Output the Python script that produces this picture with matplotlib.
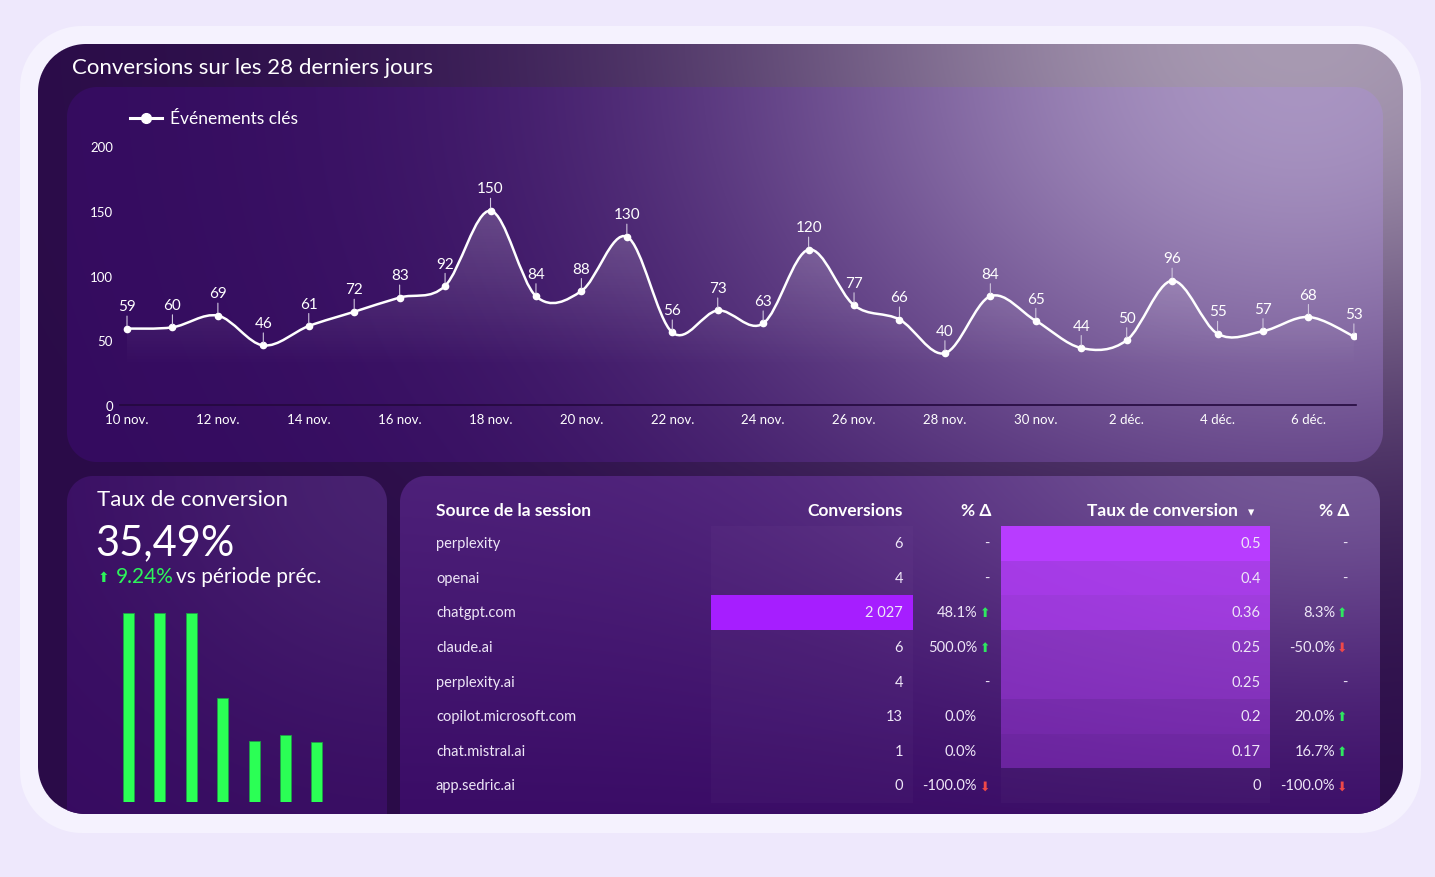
import numpy as np
import matplotlib
matplotlib.use('Agg')
import matplotlib.pyplot as plt
from matplotlib.colors import to_rgb
from matplotlib.path import Path
from matplotlib.patches import PathPatch, Rectangle

plt.rcParams['font.family'] = ['Lato', 'DejaVu Sans']

W, H = 1435, 878

# ---------------- data ----------------
day_labels = [f'{d} nov.' for d in range(10, 31)] + [f'{d} déc.' for d in range(1, 8)]
events = [59, 60, 69, 46, 61, 72, 83, 92, 150, 84, 88, 130, 56, 73,
          63, 120, 77, 66, 40, 84, 65, 44, 50, 96, 55, 57, 68, 53]

rate_value = '35,49%'
rate_change = '9.24%'
trend_bars = [1.0, 1.0, 1.0, 0.55, 0.324, 0.356, 0.315]

sources = ['perplexity', 'openai', 'chatgpt.com', 'claude.ai', 'perplexity.ai',
           'copilot.microsoft.com', 'chat.mistral.ai', 'app.sedric.ai']
conversions = [6, 4, 2027, 6, 4, 13, 1, 0]
conv_delta = ['-', '-', '48.1%', '500.0%', '-', '0.0%', '0.0%', '-100.0%']
conv_dir = [0, 0, 1, 1, 0, 0, 0, -1]
rates = [0.5, 0.4, 0.36, 0.25, 0.25, 0.2, 0.17, 0]
rate_labels = ['0.5', '0.4', '0.36', '0.25', '0.25', '0.2', '0.17', '0']
rate_delta = ['-', '-', '8.3%', '-50.0%', '-', '20.0%', '16.7%', '-100.0%']
rate_dir = [0, 0, 1, -1, 0, 1, 1, -1]

# ---------------- background (rounded cards with glow) ----------------
yy, xx = np.mgrid[0:H, 0:W] + 0.5


def rrect(x0, y0, x1, y1, r):
    cx, cy = (x0 + x1) / 2, (y0 + y1) / 2
    qx = np.abs(xx - cx) - ((x1 - x0) / 2 - r)
    qy = np.abs(yy - cy) - ((y1 - y0) / 2 - r)
    d = np.hypot(np.maximum(qx, 0), np.maximum(qy, 0)) + np.minimum(np.maximum(qx, qy), 0) - r
    return np.clip(0.5 - d, 0, 1)[..., None]


def glow(cx, cy, sx, sy):
    return np.exp(-(((xx - cx) / sx) ** 2 + ((yy - cy) / sy) ** 2))[..., None]


def mix(a, b, t):
    a = np.array(to_rgb(a)) if isinstance(a, str) else a
    b = np.array(to_rgb(b)) if isinstance(b, str) else b
    return a * (1 - t) + b * t


img = np.ones((H, W, 3)) * np.array(to_rgb('#EEE8FC'))
img = mix(img, '#F5F2FE', rrect(20, 27, 1421, 834, 62))

card = rrect(38, 45, 1403, 815, 48)
card_col = mix('#2A0B48', '#A89AB2', glow(1300, 40, 600, 380))
img = mix(img, card_col, card)

chart_col = mix('#340B5F', '#A995C2', glow(1300, 70, 570, 440))
img = mix(img, chart_col, rrect(67, 88, 1383, 463, 30) * card)

left_col = mix('#370B61', '#5A3A80', glow(420, 470, 300, 250) * 0.5)
img = mix(img, left_col, rrect(67, 477, 387, 880, 26) * card)

tv = np.clip((yy[..., None] - 477) / 340, 0, 1)
table_col = mix(mix('#4D2079', '#3A0C66', tv), '#80689F', glow(1330, 440, 420, 220) * 0.8)
img = mix(img, table_col, rrect(400, 477, 1380, 880, 26) * card)

fig = plt.figure(figsize=(W / 100, H / 100), dpi=100)
bg = fig.add_axes([0, 0, 1, 1])
bg.imshow(img, extent=[0, W, H, 0], interpolation='nearest')
bg.set_xlim(0, W)
bg.set_ylim(H, 0)
bg.axis('off')

# ---------------- line chart ----------------
bg.text(72, 68, 'Conversions sur les 28 derniers jours', fontsize=16, color='white', va='center')
bg.plot([130, 162], [119, 119], color='white', lw=2.2)
bg.plot([146], [119], 'o', color='white', ms=7)
bg.text(170, 119, 'Événements clés', fontsize=12.5, color='white', va='center')

step = 45.44
ax = fig.add_axes([120 / W, 1 - 406 / H, (1356 - 120) / W, (406 - 147) / H])
ax.patch.set_alpha(0)
n = len(events)
x = np.arange(n)
pts = np.column_stack([x, events]).astype(float)

verts = [pts[0]]
codes = [Path.MOVETO]
for i in range(n - 1):
    p0, p1, p2, p3 = pts[max(i - 1, 0)], pts[i], pts[i + 1], pts[min(i + 2, n - 1)]
    verts += [p1 + (p2 - p0) / 6, p2 - (p3 - p1) / 6, p2]
    codes += [Path.CURVE4] * 3
line_path = Path(verts, codes)
fill_path = Path(verts + [(n - 1, 0), (0, 0), pts[0]],
                 codes + [Path.LINETO, Path.LINETO, Path.CLOSEPOLY])

fill_patch = PathPatch(fill_path, facecolor='none', edgecolor='none')
ax.add_patch(fill_patch)
lev = np.linspace(0, 200, 400)
grad = np.zeros((400, 1, 4))
grad[..., :3] = 1
grad[:, 0, 3] = 0.20 * np.clip((lev - 28) / 122, 0, 1)
im = ax.imshow(grad, extent=[0, n - 1, 0, 200], origin='lower', aspect='auto', zorder=1)
im.set_clip_path(fill_patch)

ax.add_patch(PathPatch(line_path, facecolor='none', edgecolor='white', lw=1.8, zorder=3))
ax.plot(x, events, 'o', color='white', ms=4.5, zorder=4)
for i, v in enumerate(events):
    ax.annotate(str(v), xy=(i, v), xytext=(0, 11), textcoords='offset points',
                ha='center', va='bottom', fontsize=11, color='white', zorder=5,
                arrowprops=dict(arrowstyle='-', color='#CFC6DD', lw=0.8, shrinkA=0, shrinkB=2))

ax.set_xlim(-7 / step, 1229 / step)
ax.set_ylim(0, 200)
ax.set_yticks([0, 50, 100, 150, 200])
ax.set_xticks(x[::2])
ax.set_xticklabels(day_labels[::2])
ax.tick_params(length=0, colors='white', labelsize=9.5)
ax.tick_params(axis='x', pad=6)
ax.tick_params(axis='y', pad=5)
for s in ['top', 'right', 'left']:
    ax.spines[s].set_visible(False)
ax.spines['bottom'].set_color('#24093E')
ax.spines['bottom'].set_linewidth(1.2)

# ---------------- conversion rate card ----------------
green = '#2DF55A'
bg.text(97, 500, 'Taux de conversion', fontsize=16, color='white', va='center')
bg.text(95, 543, rate_value, fontsize=30, color='white', va='center')
bg.text(98, 578, '⬆', fontsize=10, color=green, va='center')
bg.text(116, 577, rate_change, fontsize=15, color=green, va='center')
bg.text(176, 577, 'vs période préc.', fontsize=15, color='white', va='center')

bx = fig.add_axes([113 / W, 1 - 803 / H, (332 - 113) / W, (803 - 614) / H])
bx.bar(range(len(trend_bars)), trend_bars, width=0.35, color='#2BFF55',
       edgecolor='#1E9E48', linewidth=0.6)
bx.set_xlim(-0.494, 6.48)
bx.set_ylim(0, 1)
bx.axis('off')

# ---------------- table ----------------
hdr_y = 511
hdr = dict(fontsize=12.5, fontweight='bold', color='white', va='center')
bg.text(436, hdr_y, 'Source de la session', **hdr)
bg.text(903, hdr_y, 'Conversions', ha='right', **hdr)
bg.text(991, hdr_y, '% Δ', ha='right', **hdr)
bg.text(1238, hdr_y, 'Taux de conversion', ha='right', **hdr)
bg.text(1251, hdr_y + 1, '▾', fontsize=9, color='white', va='center', ha='center')
bg.text(1349, hdr_y, '% Δ', ha='right', **hdr)

row_top, row_h = 527, 34.6
nrows = len(sources)
bg.add_patch(Rectangle((711, row_top), 202, row_h * nrows, color='white', alpha=0.025, lw=0))
bg.add_patch(Rectangle((1001, row_top), 269, row_h * nrows, color='white', alpha=0.025, lw=0))

txt = '#EEE6F7'
arrow_col = {1: ('⬆', '#2EE860'), -1: ('⬇', '#F04848')}
for i in range(nrows):
    top = row_top + i * row_h
    cy = top + row_h / 2
    bg.add_patch(Rectangle((711, top), 202, row_h, color='#A61EFF',
                           alpha=conversions[i] / max(conversions), lw=0))
    bg.add_patch(Rectangle((1001, top), 269, row_h, color='#B83CFF',
                           alpha=rates[i] / max(rates), lw=0))
    bg.text(436, cy, sources[i], fontsize=10.5, color=txt, va='center')
    bg.text(903, cy, f'{conversions[i]:,}'.replace(',', ' '), fontsize=10.5, color=txt, va='center', ha='right')
    bg.text(1261, cy, rate_labels[i], fontsize=10.5, color=txt, va='center', ha='right')
    for label, d, xr, xa in [(conv_delta[i], conv_dir[i], 977, 985), (rate_delta[i], rate_dir[i], 1335, 1342)]:
        if label == '-':
            bg.text(xr + 13, cy, '-', fontsize=10.5, color=txt, va='center', ha='right')
        else:
            bg.text(xr, cy, label, fontsize=10.5, color=txt, va='center', ha='right')
            if d:
                g, c = arrow_col[d]
                bg.text(xa, cy, g, fontsize=9, color=c, va='center', ha='center')

fig.savefig('out.png', dpi=100)
